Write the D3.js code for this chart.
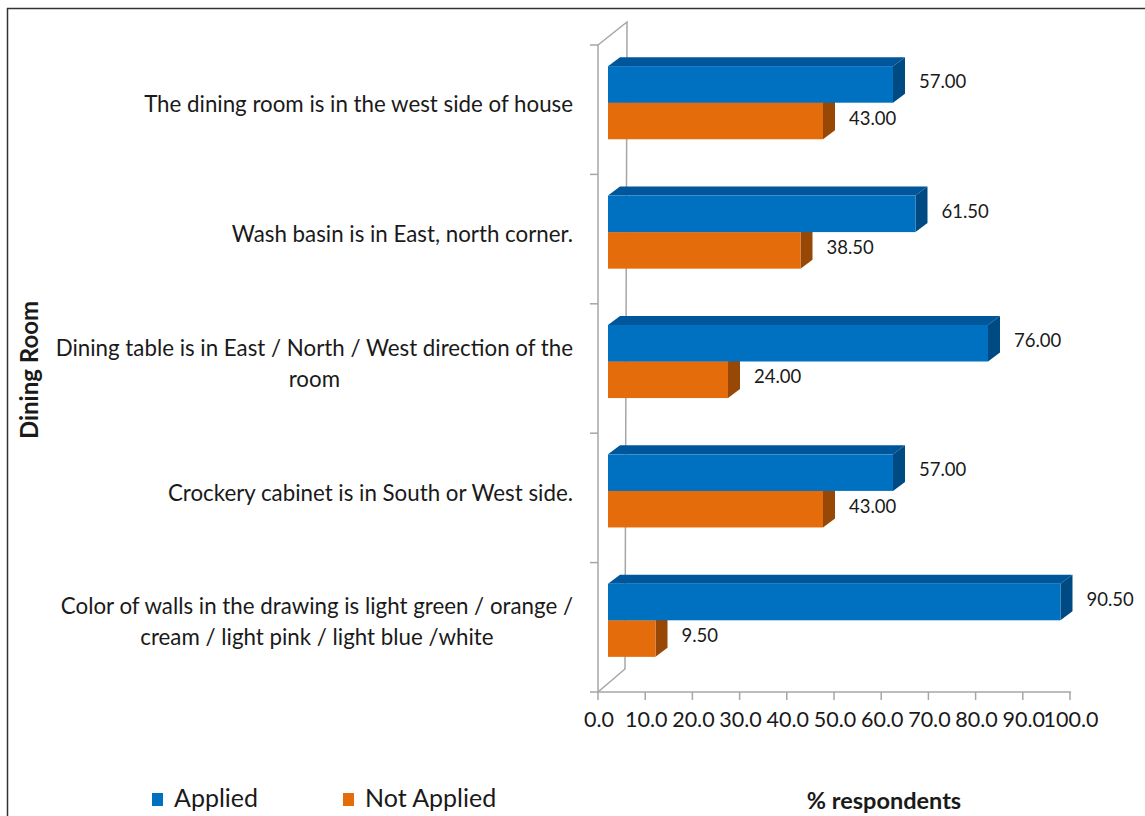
<!DOCTYPE html>
<html><head><meta charset="utf-8">
<script src="https://cdn.jsdelivr.net/npm/d3@7"></script>
<style>
html,body{margin:0;padding:0;background:#fff;}
text{font-family:Lato,"Open Sans",sans-serif;fill:#1a1a1a;}
</style></head>
<body><svg id="chart" width="1145" height="816"></svg>
<script>
const categories = [
  ["The dining room is in the west side of house"],
  ["Wash basin is in East, north corner."],
  ["Dining table is in East / North / West direction of the", "room"],
  ["Crockery cabinet is in South or West side."],
  ["Color of walls in the drawing is light green / orange /", "cream / light pink / light blue /white"]
];
const seriesNames = ["Applied", "Not Applied"];
const applied = [57.00, 61.50, 76.00, 57.00, 90.50];
const notApplied = [43.00, 38.50, 24.00, 43.00, 9.50];
const xTicks = [0, 10, 20, 30, 40, 50, 60, 70, 80, 90, 100];
const yTitle = "Dining Room";
const xTitle = "% respondents";

const colors = {
  "Applied": {front: "#0070C0", top: "#00569a", side: "#004a83"},
  "Not Applied": {front: "#E46C0A", top: "#b35508", side: "#974706"}
};

const svg = d3.select("#chart");
const W = 1145, H = 816;

// frame
svg.append("line").attr("x1", 7).attr("y1", 8.5).attr("x2", W).attr("y2", 8.5).attr("stroke", "#333").attr("stroke-width", 1.5);
svg.append("line").attr("x1", 7).attr("y1", 9.5).attr("x2", W).attr("y2", 9.5).attr("stroke", "#ccc").attr("stroke-width", 1);
svg.append("line").attr("x1", 7.5).attr("y1", 8).attr("x2", 7.5).attr("y2", H).attr("stroke", "#333").attr("stroke-width", 1.5);

// geometry
const frontX = 598, axisRight = 1070, topY = 45, bottomY = 692;
const wallDX = 29, wallDY = -23;
const barDX = 10, barDY = -7;  // bar plane relative to front plane
const topDX = 12, topDY = -9;  // bar depth

const xAxisScale = d3.scaleLinear().domain([0, 100]).range([frontX, axisRight]);
const xBar = d3.scaleLinear().domain([0, 100]).range([frontX + barDX, frontX + barDX + 500]);
const idx = d3.range(categories.length);
const yBand = d3.scaleBand().domain(idx).range([topY, bottomY]).paddingInner(0).paddingOuter(0);
const ySeries = d3.scaleBand().domain(seriesNames).range([0, yBand.bandwidth()]).paddingInner(0).paddingOuter(0.77);

const gray = "#a6a6a6";
// walls
const wall = svg.append("g").attr("stroke", gray).attr("stroke-width", 1.5).attr("fill", "none");
wall.append("path").attr("d", `M${frontX},${topY} L${frontX + wallDX},${topY + wallDY} L${frontX + wallDX - 2},${bottomY + wallDY} L${frontX},${bottomY}`);
wall.append("line").attr("x1", frontX).attr("y1", topY).attr("x2", frontX).attr("y2", bottomY);
wall.append("line").attr("x1", frontX).attr("y1", bottomY).attr("x2", axisRight + 1).attr("y2", bottomY);

// category ticks
const catTicks = idx.map(i => yBand(i)).concat([bottomY]);
wall.selectAll(".ct").data(catTicks).join("line")
  .attr("x1", frontX - 8).attr("x2", frontX).attr("y1", d => d).attr("y2", d => d);
// x ticks
wall.selectAll(".xt").data(xTicks).join("line")
  .attr("x1", d => xAxisScale(d)).attr("x2", d => xAxisScale(d)).attr("y1", bottomY).attr("y2", bottomY + 8);

svg.append("g").selectAll("text").data(xTicks).join("text")
  .attr("x", d => xAxisScale(d) + 1).attr("y", 722)
  .attr("text-anchor", "middle").attr("dominant-baseline", "middle").attr("font-size", 21.5)
  .text(d => d.toFixed(1));

// bars
const rows = [];
idx.forEach(i => {
  rows.push({i, s: "Applied", v: applied[i]});
  rows.push({i, s: "Not Applied", v: notApplied[i]});
});
const barG = svg.append("g");
const order = rows.slice().sort((a, b) => a.i - b.i || (a.s === "Not Applied" ? -1 : 1));
order.forEach(r => {
  const x0 = xBar(0), x1 = xBar(r.v);
  const y0 = yBand(r.i) + barDY + ySeries(r.s);
  const h = ySeries.bandwidth();
  const c = colors[r.s];
  const g = barG.append("g");
  g.append("path").attr("fill", c.top)
    .attr("d", `M${x0},${y0} L${x0 + topDX},${y0 + topDY} L${x1 + topDX},${y0 + topDY} L${x1},${y0} Z`);
  g.append("path").attr("fill", c.side)
    .attr("d", `M${x1},${y0} L${x1 + topDX},${y0 + topDY} L${x1 + topDX},${y0 + topDY + h} L${x1},${y0 + h} Z`);
  g.append("rect").attr("x", x0).attr("y", y0).attr("width", x1 - x0).attr("height", h).attr("fill", c.front);
});
// value labels
svg.append("g").selectAll("text").data(rows).join("text")
  .attr("x", d => xBar(d.v) + topDX + 14)
  .attr("y", d => yBand(d.i) + barDY + ySeries(d.s) + ySeries.bandwidth() / 2 - 1)
  .attr("dominant-baseline", "middle").attr("font-size", 18.5)
  .text(d => d.v.toFixed(2));

// category labels
const labelRight = 573;
const catG = svg.append("g");
categories.forEach((lines, i) => {
  const t = catG.append("text").attr("font-size", 22.3).attr("text-anchor", "middle");
  const lineH = 31;
  const cy = yBand(i) + yBand.bandwidth() / 2 - 3;
  const startY = cy - (lines.length - 1) * lineH / 2;
  const ts = lines.map((ln, k) => t.append("tspan").attr("y", startY + k * lineH).attr("dominant-baseline", "middle").text(ln));
  const maxW = d3.max(ts, s => s.node().getComputedTextLength());
  ts.forEach(s => s.attr("x", labelRight - maxW / 2));
});

// axis titles
svg.append("text").attr("transform", "translate(32,370) rotate(-90)")
  .attr("text-anchor", "middle").attr("dominant-baseline", "middle")
  .attr("font-size", 24).attr("font-weight", "bold").text(yTitle);
svg.append("text").attr("x", 884).attr("y", 803).attr("text-anchor", "middle").attr("dominant-baseline", "middle")
  .attr("font-size", 23.5).attr("font-weight", "bold").text(xTitle);

// legend
const legX = [152, 343];
const leg = svg.append("g").selectAll("g").data(seriesNames).join("g")
  .attr("transform", (d, k) => `translate(${legX[k]},793)`);
leg.append("rect").attr("width", 11).attr("height", 13).attr("fill", d => colors[d].front);
leg.append("text").attr("x", 22).attr("y", 8).attr("dominant-baseline", "middle").attr("font-size", 25).text(d => d);
</script></body></html>
